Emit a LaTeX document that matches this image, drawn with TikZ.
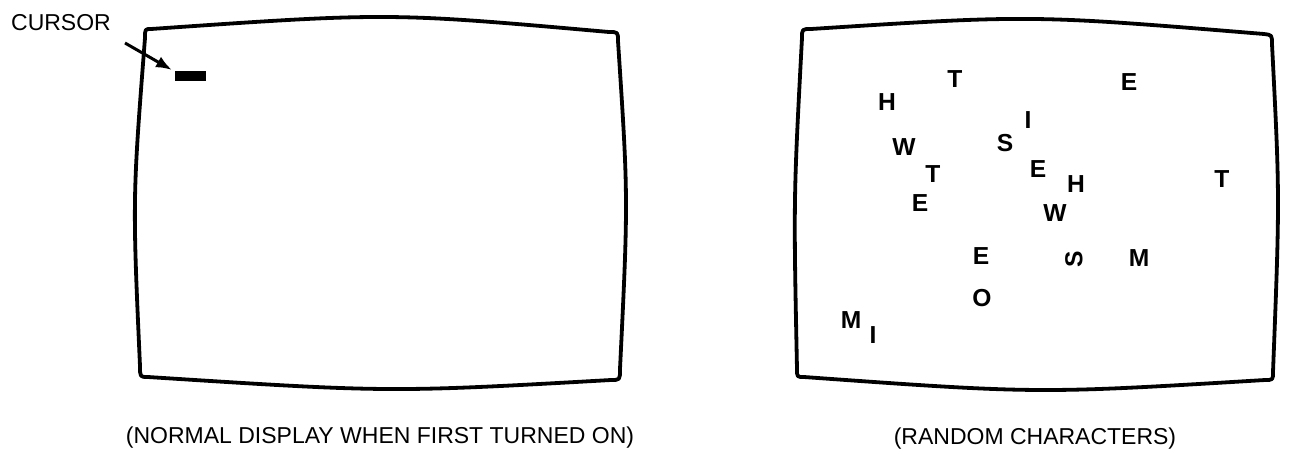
\documentclass[tikz,border=0pt]{standalone}
\usepackage{fontspec}
\setmainfont{Liberation Sans}
\usetikzlibrary{arrows.meta}
\begin{document}
\begin{tikzpicture}[x=0.5pt,y=-0.5pt,
  screen/.style={line width=1.9pt, line join=round},
  rnd/.style={font=\fontsize{12.3pt}{14pt}\selectfont\bfseries, inner sep=0pt, anchor=base},
  capt/.style={font=\fontsize{11.5pt}{13pt}\selectfont, inner sep=0pt, anchor=base},
  ptr/.style={line width=1.5pt, -{Latex[length=8pt,width=6pt]}}]
\useasboundingbox (0,0) rectangle (1292,456);
% left screen
\draw[screen] (151,29) .. controls (389,12.5) .. (609,32)
  .. controls (618,32) .. (618,41)
  .. controls (628.3,198) .. (620,369)
  .. controls (620,380) .. (611,380)
  .. controls (389.5,392.5) .. (148,377)
  .. controls (140,377) .. (140,366)
  .. controls (132.5,199) .. (145,38)
  .. controls (145,29) .. cycle;
% right screen
\draw[screen] (811,29) .. controls (1031.5,14.8) .. (1264,34)
  .. controls (1272,35) .. (1272,44)
  .. controls (1279.8,197) .. (1273,372)
  .. controls (1273,380) .. (1265,380)
  .. controls (1037.8,393.8) .. (804,377)
  .. controls (797,377) .. (797,369)
  .. controls (793.5,198.8) .. (802,38)
  .. controls (802,29) .. cycle;
% cursor
\node[capt] (lbl) at (61,30) {CURSOR};
\fill (175,71) rectangle (206,81);
\node[inner sep=0pt, minimum width=15.5pt, minimum height=5pt] (cur) at (190.5,76) {};
\coordinate (tail) at (125,43);
\coordinate (tip) at (172,70);
\draw[ptr] (tail) -- (tip);
% random characters
\node[rnd] (c1) at (955,87) {T};
\node[rnd] (c2) at (1129,90) {E};
\node[rnd] (c3) at (887,110) {H};
\node[rnd] (c4) at (1028,128) {I};
\node[rnd] (c5) at (904,155) {W};
\node[rnd] (c6) at (1005,151) {S};
\node[rnd] (c7) at (933,182) {T};
\node[rnd] (c8) at (1038,177) {E};
\node[rnd] (c9) at (1076,192) {H};
\node[rnd] (c10) at (1222,187) {T};
\node[rnd] (c11) at (920,211) {E};
\node[rnd] (c12) at (1055,221) {W};
\node[rnd] (c13) at (981,264) {E};
\node[rnd,anchor=center,rotate=90] (c14) at (1074,259) {S};
\node[rnd] (c15) at (1139,266) {M};
\node[rnd] (c16) at (982,306) {O};
\node[rnd] (c17) at (851,328) {M};
\node[rnd] (c18) at (873,343) {I};
% captions
\node[capt] (cap1) at (380,443) {(NORMAL DISPLAY WHEN FIRST TURNED ON)};
\node[capt] (cap2) at (1035,444) {(RANDOM CHARACTERS)};
\end{tikzpicture}
\end{document}
